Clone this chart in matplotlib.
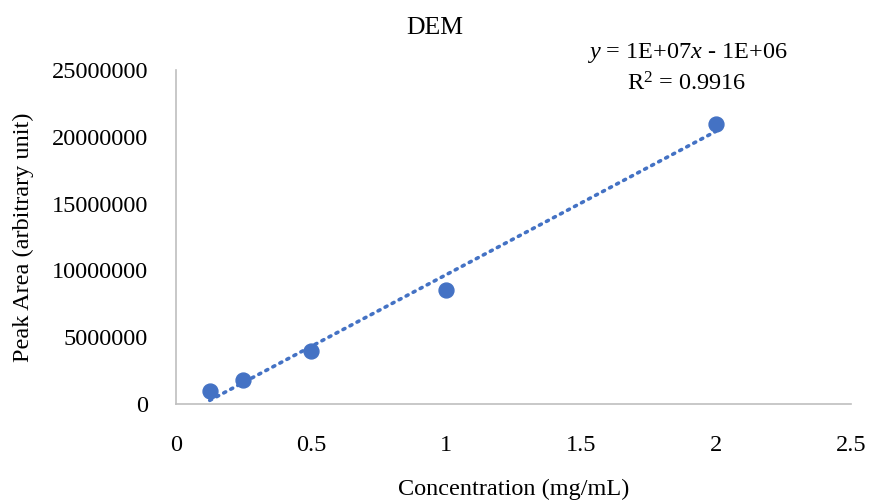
import numpy as np
import matplotlib.pyplot as plt

# Calibration data
concentration = [0.125, 0.25, 0.5, 1.0, 2.0]          # mg/mL
peak_area = [970000, 1800000, 3970000, 8530000, 21000000]

BLUE = '#4472C4'
FS = 17.5
plt.rcParams['font.family'] = ['Liberation Serif', 'DejaVu Serif']
plt.rcParams['mathtext.fontset'] = 'custom'
plt.rcParams['mathtext.rm'] = 'Liberation Serif'
plt.rcParams['mathtext.it'] = 'Liberation Serif:italic'

fig = plt.figure(figsize=(8.69, 5.01), dpi=100)
ax = fig.add_axes([0.2025, 0.1936, 0.7765, 0.6664])

ax.scatter(concentration, peak_area, s=115, color=BLUE, zorder=3)

# linear trendline
slope, intercept = np.polyfit(concentration, peak_area, 1)
xs = np.array([min(concentration), max(concentration)])
ax.plot(xs, slope * xs + intercept, color=BLUE, linestyle=(0, (0.6, 1.6)),
        linewidth=2.6, dash_capstyle='round', zorder=2)

ax.set_xlim(0, 2.5)
ax.set_ylim(0, 25000000)
ax.set_xticks([0, 0.5, 1, 1.5, 2, 2.5])
ax.set_xticklabels(['0', '0.5', '1', '1.5', '2', '2.5'])
ax.set_yticks(range(0, 25000001, 5000000))
ax.set_yticklabels([str(v) for v in range(0, 25000001, 5000000)])
ax.tick_params(length=0, labelsize=FS)
ax.tick_params(axis='x', pad=22)
ax.tick_params(axis='y', pad=20)

for side in ['top', 'right']:
    ax.spines[side].set_visible(False)
for side in ['left', 'bottom']:
    ax.spines[side].set_color('#BFBFBF')
    ax.spines[side].set_linewidth(1.2)

ax.set_xlabel('Concentration (mg/mL)', fontsize=FS, labelpad=17)
ax.set_ylabel('Peak Area (arbitrary unit)', fontsize=FS, labelpad=13)
fig.text(0.5, 0.945, 'DEM', ha='center', va='center', fontsize=18.5)

ax.text(1.893, 26270000, r'$\it{y}$ = 1E+07$\it{x}$ - 1E+06', ha='center', va='center',
        fontsize=FS)
ax.text(1.893, 23950000, r'R$^2$ = 0.9916', ha='center', va='center', fontsize=FS)

fig.savefig('out.png', dpi=100)
